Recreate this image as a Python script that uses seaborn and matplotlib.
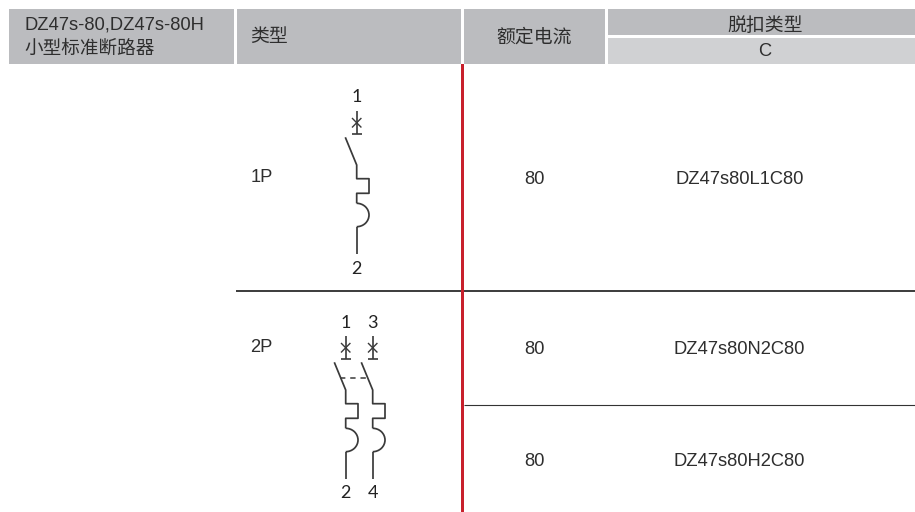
import matplotlib
matplotlib.use("Agg")
import matplotlib.pyplot as plt
from matplotlib.patches import Rectangle, Arc
import seaborn as sns

# ---- table content ----
title_lines = ["DZ47s-80,DZ47s-80H", "小型标准断路器"]
col_type = "类型"
col_current = "额定电流"
col_trip = "脱扣类型"
col_trip_sub = "C"
pole_types = ["1P", "2P"]
ratings = ["80", "80", "80"]
models = ["DZ47s80L1C80", "DZ47s80N2C80", "DZ47s80H2C80"]

sns.set_theme(style="white")
LATIN = "Liberation Sans"
CJK = "Noto Sans CJK SC"
plt.rcParams["font.family"] = [LATIN, CJK, "DejaVu Sans"]

HEAD = "#BBBCBF"
SUB = "#D0D1D3"
RED = "#C8202C"
TXT = "#2E2E2E"
INK = "#3A3A3A"

fig = plt.figure(figsize=(9.15, 5.12), dpi=100, facecolor="white")
ax = fig.add_axes([0, 0, 1, 1])
ax.set_xlim(0, 915)
ax.set_ylim(512, 0)
ax.axis("off")


def cell(x0, y0, x1, y1, color):
    ax.add_patch(Rectangle((x0, y0), x1 - x0, y1 - y0, fc=color, ec="none", zorder=1))


def label(x, y, s, ha="left", size=13.2, color=TXT, family=None):
    kw = {"family": family} if family else {}
    ax.text(x, y, s, ha=ha, va="center", fontsize=size, color=color, zorder=4, **kw)


def stroke(xs, ys, lw=1.2, color=INK, ls="-"):
    sns.lineplot(x=xs, y=ys, sort=False, estimator=None, ax=ax, color=color,
                 linewidth=lw, linestyle=ls, legend=False, zorder=3,
                 solid_capstyle="butt", errorbar=None)


# header cells
cell(9, 9, 234, 64, HEAD)
cell(237, 9, 461, 64, HEAD)
cell(464, 9, 605, 64, HEAD)
cell(608, 9, 915, 35, HEAD)
cell(608, 38, 915, 64, SUB)

# header text
label(25, 25, title_lines[0], size=13.2)
label(24.5, 48.5, title_lines[1], size=13.4, family=CJK)
label(250.5, 36.5, col_type, size=13.6, family=CJK)
label(534.5, 37, col_current, ha="center", size=13.6, family=CJK)
label(765, 25.5, col_trip, ha="center", size=13.6, family=CJK)
label(765, 51, col_trip_sub, ha="center", size=13.2)

# rules
ax.add_patch(Rectangle((461, 64), 3, 448, fc=RED, ec="none", zorder=5))
stroke([236, 915], [291, 291], lw=1.2, color="#1A1A1A")
stroke([464, 915], [405, 405], lw=0.8, color="#333333")

# body text
label(250.5, 177.5, pole_types[0])
label(250.5, 348, pole_types[1])
for y, r, m in zip([179, 349, 461.5], ratings, models):
    label(534.5, y, r, ha="center")
    label(739.5, y, m, ha="center")


def pole(x, top, num_top, num_bot, num_top_y, num_bot_y):
    """One breaker pole; `top` is the y where the terminal stem starts."""
    label(x, num_top_y, num_top, ha="center", size=13, family="Lato", color="#222222")
    label(x, num_bot_y, num_bot, ha="center", size=13, family="Lato", color="#222222")
    stroke([x, x], [top, top + 22.5])
    stroke([x - 5, x + 5], [top + 23, top + 23])
    stroke([x - 4.7, x + 4.7], [top + 7, top + 16.5], lw=1.0)
    stroke([x - 4.7, x + 4.7], [top + 16.5, top + 7], lw=1.0)
    # moving contact and thermal loop
    stroke([x - 11.4, x, x, x + 12.3, x + 12.3, x, x],
           [top + 26.3, top + 54, top + 67.7, top + 67.7, top + 82.3, top + 82.3, top + 92.3],
           lw=1.25)
    ax.add_patch(Arc((x, top + 104), 24.6, 23.4, theta1=-90, theta2=90,
                     ec=INK, lw=1.25, zorder=3))
    stroke([x, x], [top + 115.7, top + 143], lw=1.25)


pole(356.7, 111, "1", "2", 97.5, 268.5)
pole(345.7, 336, "1", "2", 323.5, 493.5)
pole(372.7, 336, "3", "4", 323.5, 493.5)
stroke([340, 366.7], [377.7, 377.7], lw=1.1, ls=(0, (3.5, 3.2)))

ax.set_xlim(0, 915)
ax.set_ylim(512, 0)
ax.axis("off")
fig.savefig("out.png", dpi=100)
